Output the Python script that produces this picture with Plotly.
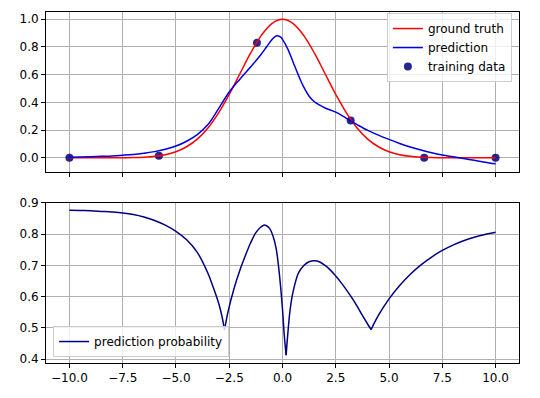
import plotly.graph_objects as go

# ---- data ----
truth_x = [-10, -9.5, -9, -8.5, -8, -7.5, -7, -6.5, -6, -5.5, -5, -4.5, -4, -3.5, -3, -2.5, -2, -1.5, -1, -0.5,
           0, 0.5, 1, 1.5, 2, 2.5, 3, 3.5, 4, 4.5, 5, 5.5, 6, 6.5, 7, 7.5, 8, 8.5, 9, 9.5, 10]
truth_y = [0.0, 0.0, 0.0, 0.0, 0.0, 0.001, 0.002, 0.005, 0.011, 0.023, 0.044, 0.080, 0.135, 0.216, 0.325, 0.458,
           0.607, 0.755, 0.882, 0.969, 1.0, 0.969, 0.882, 0.755, 0.607, 0.458, 0.325, 0.216, 0.135, 0.080, 0.044,
           0.023, 0.011, 0.005, 0.002, 0.001, 0.0, 0.0, 0.0, 0.0, 0.0]

pred_x = [-10, -9.5, -9, -8.5, -8, -7.5, -7, -6.5, -6, -5.5, -5, -4.5, -4, -3.5, -3, -2.5, -2, -1.5, -1.25,
          -1.0, -0.75, -0.5, -0.3, -0.1, 0.0, 0.25, 0.5, 0.75, 1.0, 1.25, 1.5, 1.75, 2.0, 2.5, 3.0, 3.5, 4.0,
          4.5, 5.0, 5.5, 6.0, 6.5, 7.0, 7.5, 8.0, 8.5, 9.0, 9.5, 10]
pred_y = [0.005, 0.006, 0.008, 0.011, 0.014, 0.019, 0.025, 0.034, 0.045, 0.062, 0.085, 0.12, 0.168, 0.24,
          0.355, 0.475, 0.568, 0.655, 0.70, 0.748, 0.80, 0.852, 0.88, 0.873, 0.855, 0.785, 0.69, 0.595, 0.51,
          0.445, 0.405, 0.38, 0.36, 0.33, 0.285, 0.24, 0.198, 0.164, 0.133, 0.104, 0.078, 0.056, 0.037, 0.021,
          0.008, -0.005, -0.018, -0.031, -0.043]

train_x = [-10, -5.8, -1.2, 3.2, 6.65, 10]
train_y = [0.0, 0.016, 0.83, 0.27, 0.0, 0.0]

prob_x = [-10, -9.5, -9, -8.5, -8, -7.5, -7, -6.5, -6, -5.5, -5, -4.5, -4, -3.5, -3.25, -3.0, -2.85, -2.72,
          -2.55, -2.25, -2.0, -1.75, -1.5, -1.25, -1.0, -0.88, -0.75, -0.6, -0.45, -0.3, -0.15, 0.0, 0.08, 0.17,
          0.26, 0.36, 0.5, 0.75, 1.0, 1.25, 1.5, 1.75, 2.0, 2.25, 2.5, 2.75, 3.0, 3.25, 3.5, 3.75, 4.0, 4.16,
          4.5, 5.0, 5.5, 6.0, 6.5, 7.0, 7.5, 8.0, 8.5, 9.0, 9.5, 10]
prob_y = [0.877, 0.876, 0.875, 0.873, 0.871, 0.868, 0.863, 0.855, 0.844, 0.829, 0.809, 0.782, 0.742, 0.675,
          0.63, 0.58, 0.54, 0.494,
          0.554, 0.632, 0.685, 0.73, 0.772, 0.805, 0.824, 0.829, 0.827, 0.818, 0.795, 0.755, 0.675, 0.56, 0.48,
          0.413,
          0.49, 0.56, 0.617, 0.676, 0.70, 0.712, 0.715, 0.711, 0.70, 0.685, 0.666, 0.645, 0.622, 0.597, 0.57,
          0.54, 0.512, 0.495,
          0.54, 0.593, 0.636, 0.672, 0.702, 0.727, 0.748, 0.765, 0.779, 0.79, 0.799, 0.806]

x_ticks = [-10.0, -7.5, -5.0, -2.5, 0.0, 2.5, 5.0, 7.5, 10.0]
x_tick_text = ["\u221210.0", "\u22127.5", "\u22125.0", "\u22122.5", "0.0", "2.5", "5.0", "7.5", "10.0"]
top_y_ticks = [0.0, 0.2, 0.4, 0.6, 0.8, 1.0]
bot_y_ticks = [0.4, 0.5, 0.6, 0.7, 0.8, 0.9]

FONT = "DejaVu Sans"

fig = go.Figure()

fig.add_trace(go.Scatter(x=train_x, y=train_y, mode="markers", name="training data",
                         marker=dict(color="navy", size=8, opacity=0.85),
                         xaxis="x", yaxis="y", legend="legend", legendrank=3))
fig.add_trace(go.Scatter(x=truth_x, y=truth_y, mode="lines", name="ground truth",
                         line=dict(color="red", width=1.5, shape="spline", smoothing=1.0),
                         xaxis="x", yaxis="y", legend="legend", legendrank=1))
fig.add_trace(go.Scatter(x=pred_x, y=pred_y, mode="lines", name="prediction",
                         line=dict(color="#0000dd", width=1.5, shape="spline", smoothing=1.0),
                         xaxis="x", yaxis="y", legend="legend", legendrank=2))

# split the probability curve at its sharp local minima so each arm is smooth and the cusps stay sharp
cusps = [i for i in range(1, len(prob_y) - 1) if prob_y[i] < prob_y[i - 1] and prob_y[i] < prob_y[i + 1]]
bounds = [0] + cusps + [len(prob_y) - 1]
for k in range(len(bounds) - 1):
    a, b = bounds[k], bounds[k + 1]
    fig.add_trace(go.Scatter(x=prob_x[a:b + 1], y=prob_y[a:b + 1], mode="lines",
                             name="prediction probability", legendgroup="prob", showlegend=(k == 0),
                             line=dict(color="navy", width=1.5, shape="spline", smoothing=1.0),
                             xaxis="x2", yaxis="y2", legend="legend2"))

axis_common = dict(showline=True, linecolor="black", linewidth=1, mirror=True, automargin=False,
                   ticks="outside", ticklen=4, tickcolor="black", tickwidth=1,
                   showgrid=True, gridcolor="#b0b0b0", gridwidth=0.8, zeroline=False,
                   tickfont=dict(family=FONT, size=12, color="black"))

fig.update_layout(
    width=532, height=390,
    margin=dict(l=38, r=21, t=4, b=35),
    paper_bgcolor="white", plot_bgcolor="white",
    font=dict(family=FONT, size=12, color="black"),
    xaxis=dict(domain=[0, 1], anchor="y", range=[-11.1, 11.1], tickvals=x_ticks,
               showticklabels=False, matches="x2", **axis_common),
    yaxis=dict(domain=[0.544, 1], anchor="x", range=[-0.1025, 1.0525], tickvals=top_y_ticks,
               ticktext=[f"{v:.1f}" for v in top_y_ticks], **axis_common),
    xaxis2=dict(domain=[0, 1], anchor="y2", range=[-11.1, 11.1], tickvals=x_ticks,
                ticktext=x_tick_text, **axis_common),
    yaxis2=dict(domain=[0, 0.456], anchor="x2", range=[0.388, 0.9], tickvals=bot_y_ticks,
                ticktext=[f"{v:.1f}" for v in bot_y_ticks], **axis_common),
    legend=dict(x=0.985, y=0.997, xanchor="right", yanchor="top",
                bgcolor="rgba(255,255,255,0.8)", bordercolor="#cccccc", borderwidth=1,
                font=dict(family=FONT, size=12), itemwidth=30, tracegroupgap=0),
    legend2=dict(x=0.015, y=0.017, xanchor="left", yanchor="bottom",
                 bgcolor="rgba(255,255,255,0.8)", bordercolor="#cccccc", borderwidth=1,
                 font=dict(family=FONT, size=12), itemwidth=30),
    showlegend=True,
)

fig.write_html("out.html")
